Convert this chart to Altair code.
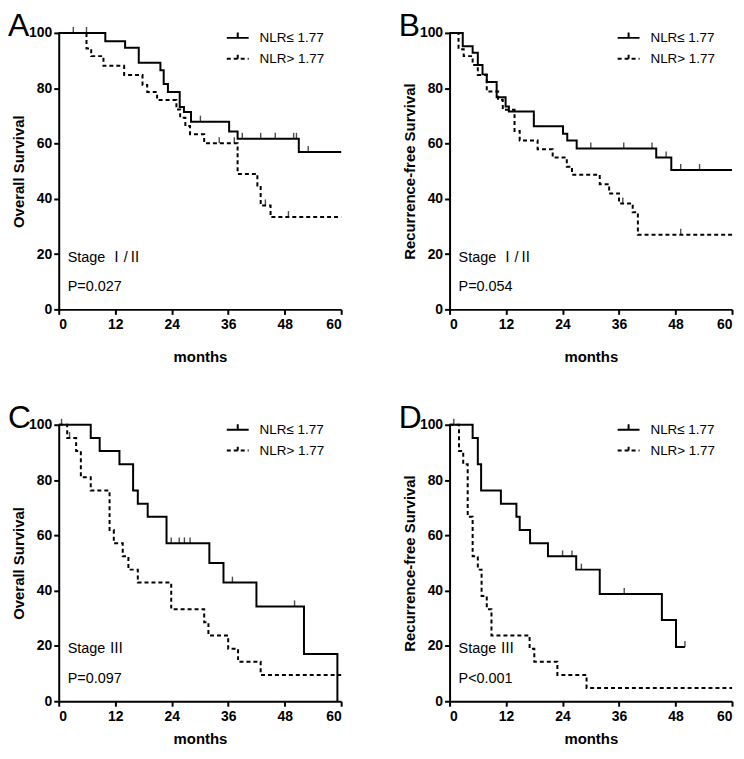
import altair as alt
import pandas as pd

LEG = ["NLR≤ 1.77", "NLR> 1.77"]

# Panel A: Overall Survival, Stage I/II
a_solid_t = [0, 9.9, 14.1, 17.0, 21.6, 22.3, 23.2, 25.7, 26.6, 28.1, 36.2, 38.0, 51.0, 60]
a_solid_s = [100, 97.0, 94.6, 89.2, 86.5, 81.5, 78.6, 73.2, 71.4, 67.9, 64.3, 61.7, 56.9, 56.9]
a_solid_c = [3.1, 5.9, 30.1, 39.0, 42.9, 46.0, 49.9, 50.5, 53.0]
a_dash_t = [0, 5.9, 6.9, 9.5, 13.9, 17.8, 18.8, 20.9, 25.0, 25.8, 26.9, 27.9, 30.9, 38.0, 42.2, 42.9, 45.0, 60]
a_dash_s = [100, 94.4, 91.6, 88.1, 84.8, 81.2, 78.6, 75.7, 72.3, 69.3, 66.3, 63.3, 60.1, 49.0, 44.8, 37.6, 33.4, 33.4]
a_dash_c = [34.1, 37.3, 43.9, 48.8]

# Panel B: Recurrence-free Survival, Stage I/II
b_solid_t = [0, 2.8, 4.9, 6.0, 7.0, 7.9, 10.0, 11.9, 12.6, 17.9, 24.1, 25.0, 27.0, 43.9, 47.1, 60]
b_solid_s = [100, 95.2, 92.8, 88.4, 85.0, 82.2, 76.7, 73.4, 71.6, 66.2, 63.5, 61.1, 58.2, 54.9, 50.4, 50.4]
b_solid_c = [30.0, 37.0, 43.0, 46.0, 49.1, 53.1]
b_dash_t = [0, 1.9, 3.0, 4.9, 6.0, 7.9, 10.3, 11.3, 13.8, 14.9, 18.7, 21.9, 24.9, 26.0, 31.9, 33.9, 36.0, 38.9, 40.0, 60]
b_dash_s = [100, 94.1, 91.6, 88.4, 84.8, 78.8, 75.8, 72.2, 64.5, 61.1, 57.9, 54.9, 51.6, 48.7, 45.3, 41.9, 38.3, 35.1, 27.0, 27.0]
b_dash_c = [36.8, 49.1]

# Panel C: Overall Survival, Stage III
c_solid_t = [0, 6.8, 8.7, 12.9, 15.8, 16.8, 18.9, 22.9, 32.0, 35.0, 42.0, 52.1, 59.2]
c_solid_s = [100, 95.2, 90.5, 85.7, 76.2, 71.4, 66.7, 57.1, 50.0, 42.9, 34.3, 17.1, 0]
c_solid_c = [0.6, 23.9, 25.6, 26.7, 27.9, 36.9, 50.1]
c_dash_t = [0, 1.8, 3.7, 4.7, 6.8, 10.8, 11.7, 13.6, 14.8, 16.8, 23.9, 30.9, 31.8, 36.0, 38.1, 42.9, 60]
c_dash_s = [100, 95.2, 90.5, 81.0, 76.2, 61.9, 57.1, 52.4, 47.6, 42.9, 33.3, 28.6, 23.8, 19.0, 14.3, 9.5, 9.5]
c_dash_c = [2.3]

# Panel D: Recurrence-free Survival, Stage III
d_solid_t = [0, 4.9, 6.0, 6.7, 10.9, 14.2, 14.9, 17.1, 20.9, 26.9, 31.9, 45.1, 48.1, 50.0]
d_solid_s = [100, 95.2, 85.7, 76.2, 71.4, 66.7, 61.9, 57.1, 52.4, 47.6, 38.8, 29.4, 19.6, 19.6]
d_solid_c = [0.9, 24.0, 26.0, 28.0, 37.1, 50.0]
d_dash_t = [0, 2.0, 2.9, 3.85, 4.9, 6.0, 6.8, 7.9, 8.9, 17.0, 18.0, 22.9, 29.1, 60]
d_dash_s = [100, 90.5, 85.7, 66.7, 52.4, 47.6, 38.1, 33.3, 23.8, 19.0, 14.3, 9.5, 4.8, 4.8]
d_dash_c = []

x_ticks = [0, 12, 24, 36, 48, 60]
y_ticks = [0, 20, 40, 60, 80, 100]

TXT_FONT = "Liberation Sans, Noto Sans CJK SC, sans-serif"
W, H = 284, 278


def surv_at(ts, ss, t):
    v = ss[0]
    for ti, si in zip(ts, ss):
        if ti <= t:
            v = si
    return v


def panel(letter, ytitle, st, ss, sc, dt, ds, dc, stage, pval, xpad):
    rows = [{"t": t, "s": s, "g": LEG[0]} for t, s in zip(st, ss)]
    rows += [{"t": t, "s": s, "g": LEG[1]} for t, s in zip(dt, ds)]
    df = pd.DataFrame(rows)
    cens = [{"t": t, "s": surv_at(st, ss, t), "g": LEG[0]} for t in sc]
    cens += [{"t": t, "s": surv_at(dt, ds, t), "g": LEG[1]} for t in dc]
    cdf = pd.DataFrame(cens, columns=["t", "s", "g"])

    x = alt.X("t:Q", scale=alt.Scale(domain=[0, 60], nice=False, zero=False),
              axis=alt.Axis(values=x_ticks, title="months", titlePadding=xpad))
    y = alt.Y("s:Q", scale=alt.Scale(domain=[0, 100], nice=False),
              axis=alt.Axis(values=y_ticks, title=ytitle))
    dash = alt.StrokeDash(
        "g:N",
        scale=alt.Scale(domain=LEG, range=[[1, 0], [4, 3]]),
        legend=alt.Legend(
            title=None, orient="none", legendX=168, legendY=-7,
            symbolType="M-1,0H1M0,0V-0.5", symbolSize=484,
            symbolStrokeWidth=2, symbolStrokeColor="black",
            labelFont=TXT_FONT, labelFontSize=13.5, labelColor="black",
            labelOffset=10, rowPadding=2,
        ),
    )
    lines = alt.Chart(df).mark_line(
        interpolate="step-after", strokeWidth=2, color="black"
    ).encode(x=x, y=y, strokeDash=dash)

    ticks = alt.Chart(cdf).mark_tick(
        orient="vertical", size=6, thickness=1.4, color="black", yOffset=-3
    ).encode(x="t:Q", y="s:Q")

    stage_txt = alt.Chart(pd.DataFrame({"label": [stage]})).mark_text(
        align="left", baseline="middle", font=TXT_FONT, fontSize=14.5, color="black"
    ).encode(text="label:N", x=alt.value(9), y=alt.value(226))
    p_txt = alt.Chart(pd.DataFrame({"label": [pval]})).mark_text(
        align="left", baseline="middle", font=TXT_FONT, fontSize=14.5, color="black"
    ).encode(text="label:N", x=alt.value(9), y=alt.value(256))
    let = alt.Chart(pd.DataFrame({"label": [letter]})).mark_text(
        align="left", baseline="alphabetic", font="Liberation Sans",
        fontSize=32, color="black"
    ).encode(text="label:N", x=alt.value(-51), y=alt.value(3))

    return alt.layer(lines, ticks, stage_txt, p_txt, let).properties(width=W, height=H)


A = panel("A", "Overall Survival", a_solid_t, a_solid_s, a_solid_c,
          a_dash_t, a_dash_s, a_dash_c, "Stage Ⅰ/Ⅱ", "P=0.027", 18)
B = panel("B", "Recurrence-free Survival", b_solid_t, b_solid_s, b_solid_c,
          b_dash_t, b_dash_s, b_dash_c, "Stage Ⅰ/Ⅱ", "P=0.054", 18)
C = panel("C", "Overall Survival", c_solid_t, c_solid_s, c_solid_c,
          c_dash_t, c_dash_s, c_dash_c, "Stage Ⅲ", "P=0.097", 9)
D = panel("D", "Recurrence-free Survival", d_solid_t, d_solid_s, d_solid_c,
          d_dash_t, d_dash_s, d_dash_c, "Stage Ⅲ", "P<0.001", 9)

chart = alt.concat(
    A, B, C, D, columns=2, spacing={"row": 116, "column": 109}, bounds="flush"
).properties(
    padding=0
).resolve_scale(strokeDash="independent").configure_view(
    stroke=None
).configure_axis(
    grid=False, domainColor="black", domainWidth=2, tickColor="black",
    tickWidth=2, tickSize=5, labelColor="black", titleColor="black",
    labelFont="Liberation Sans", labelFontWeight="bold", labelFontSize=14,
    titleFont="Liberation Sans", titleFontWeight="bold", titleFontSize=15,
    labelPadding=2,
).configure_axisX(
    labelPadding=3
).configure_axisY(
    titlePadding=2
)

chart.save("out.html", embed_options={"renderer": "svg", "actions": False})
